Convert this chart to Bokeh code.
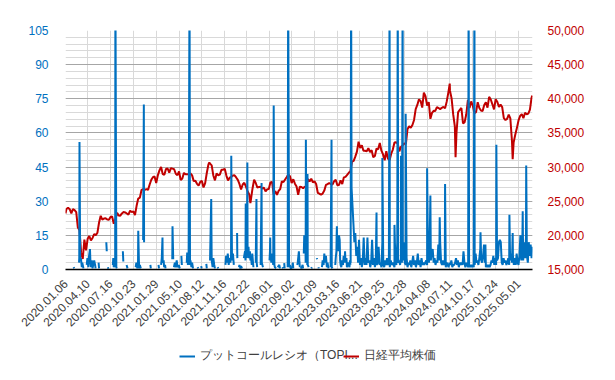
import numpy as np
import pandas as pd
from bokeh.plotting import figure
from bokeh.layouts import column
from bokeh.models import (Range1d, LinearAxis, FixedTicker, DatetimeTickFormatter,
                          NumeralTickFormatter, Legend, LegendItem)
from bokeh.embed import file_html
from bokeh.resources import INLINE

# ---------------- data ----------------
x_tick_dates = ["2020-01-06", "2020-04-10", "2020-07-16", "2020-10-23", "2021-01-29",
                "2021-05-10", "2021-08-12", "2021-11-16", "2022-02-22", "2022-06-01",
                "2022-09-02", "2022-12-09", "2023-03-16", "2023-06-21", "2023-09-25",
                "2023-12-28", "2024-04-08", "2024-07-11", "2024-10-17", "2025-01-24",
                "2025-05-01"]
x_start, x_end = "2020-01-06", "2025-07-01"
left_ticks = [0, 15, 30, 45, 60, 75, 90, 105]
right_ticks = [15000, 20000, 25000, 30000, 35000, 40000, 45000, 50000]
series_names = ["プットコールレシオ（TOPI...", "日経平均株価"]

# Nikkei 225, weekly (Friday) closes, one list per year, first Friday given
nk_2020_start = "2020-01-10"
nk_2020 = [23850, 24041, 23827, 23205, 23828, 23688, 23387, 21143,
           20750, 17431, 16552, 19389, 17820, 19499, 19897, 19262,
           19619, 20179, 20037, 20388, 21878, 22864, 22305, 22478, 22512,
           22306, 22291, 22696, 22751, 21710, 22329, 23289, 22920, 22882,
           23206, 23406, 23360, 23205, 23030, 23620, 23411, 23517, 22977,
           24325, 25385, 25527, 26645, 26751, 26653, 26763, 26657]
nk_2021_start = "2021-01-01"
nk_2021 = [27444, 28139, 28519, 28631, 27663, 28779, 29520, 30018, 28966,
           28864, 29718, 29792, 29176, 29854, 29768, 29683, 29021, 28813,
           29358, 28084, 28318, 29149, 28942, 28949, 28964, 29066,
           28783, 27940, 28003, 27548, 27284, 27820, 27977, 27013, 27641,
           29128, 30382, 30500, 30249, 28771, 28049, 29069, 28805, 28893,
           29612, 29610, 29746, 28752, 28030, 28437, 28546, 28782, 28792]
nk_2022_start = "2022-01-07"
nk_2022 = [28479, 28124, 27522, 26717, 27440, 27696, 27122, 26477,
           25985, 25163, 26828, 28150, 27666, 26986, 27093, 27105, 26848,
           27004, 26428, 26739, 26782, 27762, 27825, 25963, 26491,
           25936, 26517, 26788, 27915, 27802, 28176, 28547, 28930, 28641,
           27651, 28215, 27568, 27154, 25937, 27116, 27091, 26891, 27105,
           27200, 28264, 27900, 28283, 27778, 27901, 27527, 26235, 26095]
nk_2023_start = "2023-01-06"
nk_2023 = [25974, 26120, 26554, 27383, 27509, 27671, 27514, 27454,
           27927, 28144, 27334, 27385, 28041, 27518, 28493, 28564, 28856,
           29158, 29388, 30808, 30916, 31524, 32265, 33706, 32781, 33189,
           32388, 32391, 32304, 32759, 32193, 32474, 31451, 31625,
           32711, 32607, 33534, 32402, 31858, 30995, 32316, 31259, 30992,
           31950, 32568, 33585, 33626, 33432, 32308, 32971, 33170, 33464]
nk_2024_start = "2024-01-05"
nk_2024 = [33377, 35577, 35963, 35751, 36158, 36897, 38487, 39098,
           39911, 39689, 38708, 40888, 40369, 38992, 39524, 37068, 37935,
           38236, 38229, 38787, 38647, 38488, 38684, 38815, 38597, 39583,
           40912, 41191, 40064, 37668, 35910, 35025, 38063, 38364, 38648,
           36392, 36582, 37724, 39830, 38636, 39606, 38982, 37914,
           38054, 39501, 38643, 38284, 38208, 39091, 39471, 38702, 40281]
nk_2025_start = "2025-01-03"
nk_2025 = [39895, 39190, 38451, 39932, 39572, 38787, 39149, 38777, 37156,
           36887, 37053, 37677, 37120, 33781, 33586, 34730, 35706,
           36831, 37503, 37754, 37160, 37965, 37742, 37834, 38403, 40151]
nk_extra_dates = ["2020-01-06", "2021-09-14", "2022-03-09", "2024-07-11",
                  "2024-08-05", "2025-04-07", "2025-06-30"]
nk_extra_values = [23204, 30670, 24718, 42224, 31458, 31136, 40487]

# Put/Call ratio (TOPIX) - sparse period, None = gap
pcr_sparse_dates = [
    "2020-02-10", "2020-02-12", None,
    "2020-03-04", "2020-03-05", "2020-03-06", "2020-03-09", "2020-03-10", "2020-03-12", "2020-03-16", "2020-03-18", "2020-03-23", None,
    "2020-04-06", "2020-04-09", "2020-04-13", "2020-04-16", "2020-04-20", "2020-04-22", "2020-04-24", "2020-04-28", "2020-05-01", "2020-05-08", "2020-05-12", "2020-05-14", None,
    "2020-05-27", "2020-05-29", None,
    "2020-06-29", "2020-07-01", None,
    "2020-07-06", "2020-07-08", None,
    "2020-07-27", "2020-07-29", "2020-07-31", "2020-08-04", "2020-08-06", "2020-08-07", "2020-08-11", "2020-08-13", None,
    "2020-09-08", "2020-09-10", None,
    "2020-09-24", "2020-09-28", None,
    "2020-11-02", "2020-11-05", "2020-11-09", "2020-11-12", "2020-11-13", "2020-11-16", "2020-11-18", "2020-11-20", "2020-11-24", None,
    "2020-12-04", "2020-12-07", "2020-12-08", None,
    "2021-01-04", "2021-01-06", None,
    "2021-02-08", "2021-02-10", None,
    "2021-02-19", "2021-02-22", "2021-02-25", "2021-02-26", "2021-03-02", "2021-03-04", "2021-03-08", "2021-03-10", None,
    "2021-04-08", "2021-04-09", "2021-04-12", None,
    "2021-04-15", "2021-04-19", "2021-04-22", "2021-04-27", "2021-04-30", "2021-05-06", "2021-05-10", None,
    "2021-05-17", "2021-05-19", None,
    "2021-06-09", "2021-06-11", "2021-06-14", "2021-06-17", "2021-06-21", "2021-06-23", "2021-06-25", "2021-06-29", "2021-07-02", "2021-07-06", None,
    "2021-07-26", "2021-07-28", None,
    "2021-08-10", "2021-08-12", None,
    "2021-09-01", "2021-09-03", None,
    "2021-09-17", "2021-09-22", "2021-09-24", "2021-09-28", "2021-10-01", "2021-10-05", "2021-10-08", None,
    "2021-10-20", "2021-10-22", None,
    "2021-11-22", "2021-11-25", "2021-11-29", "2021-12-02", "2021-12-06", "2021-12-09", "2021-12-13", "2021-12-16", "2021-12-17", "2021-12-20", "2021-12-22", "2021-12-24", "2021-12-28", None,
    "2022-01-11", "2022-01-12", None,
    "2022-01-19", "2022-01-21", "2022-01-25", "2022-01-28", "2022-02-01", None,
    "2022-02-09", "2022-02-14", "2022-02-16", "2022-02-17", "2022-02-18", "2022-02-21", "2022-02-22", "2022-02-24", "2022-02-25", "2022-03-01", "2022-03-03", "2022-03-07", "2022-03-09", "2022-03-11", "2022-03-15", "2022-03-17", "2022-03-22", None,
    "2022-04-01", "2022-04-04", "2022-04-05", "2022-04-07", None,
    "2022-04-22", "2022-04-26", "2022-04-27", "2022-05-02", None,
    "2022-05-30", "2022-06-01", "2022-06-02", "2022-06-03", "2022-06-07", "2022-06-09", "2022-06-13", "2022-06-15", "2022-06-17", "2022-06-20", "2022-06-22", "2022-06-27", None,
    "2022-07-04", "2022-07-11", "2022-07-14", None,
    "2022-07-25", "2022-07-27", None,
    "2022-08-01", "2022-08-03", None,
    "2022-08-16", "2022-08-18", "2022-08-22", "2022-08-25", "2022-08-29", "2022-09-05", "2022-09-07", "2022-09-09", None,
    "2022-09-26", "2022-09-28", "2022-10-03", "2022-10-05", "2022-10-07", None,
    "2022-10-12", "2022-10-14", "2022-10-19", "2022-10-21", None,
    "2022-10-24", "2022-10-26", "2022-10-28", "2022-10-31", "2022-11-01", "2022-11-02", "2022-11-04", "2022-11-07", "2022-11-08", "2022-11-09", "2022-11-10", "2022-11-14", None,
    "2022-11-25", "2022-11-28", None,
    "2022-12-19", "2022-12-20", None,
    "2022-12-26", "2022-12-27", None,
    "2023-01-10", "2023-01-13", "2023-01-17", "2023-01-20", "2023-01-24", "2023-01-27", "2023-01-31", "2023-02-03", "2023-02-07", None,
    "2023-02-16", "2023-02-20", "2023-02-21", "2023-02-24", None,
    "2023-03-08", "2023-03-10", "2023-03-13", "2023-03-14", "2023-03-15", "2023-03-16", "2023-03-20", "2023-03-22", "2023-03-24", "2023-03-27", "2023-03-29", "2023-03-31", "2023-04-03", "2023-04-06", "2023-04-10", "2023-04-13", "2023-04-17", "2023-04-19", "2023-04-21", "2023-04-25", "2023-04-27", "2023-05-01", "2023-05-08", "2023-05-10", "2023-05-12",
]
pcr_sparse_values = [
    1, 0.5, None,
    3, 5, 56, 5, 4, 5, 1, 3, 0.5, None,
    2, 5, 1, 6, 9, 3, 1, 4, 0.5, 4, 2, 0.5, None,
    3, 0.5, None,
    12, 8, None,
    1, 0.3, None,
    2, 5, 1, 3, 1, 130, 1, 0.5, None,
    8, 3.5, None,
    2, 0.5, None,
    1, 3, 0.5, 2, 17, 3, 0.5, 2, 0.5, None,
    13, 72.5, 12, None,
    2, 0.5, None,
    2, 0.5, None,
    2, 5, 14, 3, 4, 1, 2, 0.5, None,
    4.5, 19, 4.5, None,
    1, 3, 1, 4, 1, 2, 0.5, None,
    6, 2, None,
    3, 7.5, 2, 4, 130, 2, 4, 1, 3, 0.5, None,
    1, 0.5, None,
    1.5, 0.5, None,
    2.5, 0.5, None,
    4, 31, 4, 1, 5, 2, 0.5, None,
    1, 0.5, None,
    2, 6, 3, 7, 2, 5, 3, 6, 50, 6, 4, 7, 2, None,
    16, 5, None,
    1, 2, 0.5, 1.5, 0.5, None,
    5, 8, 4, 29, 6, 9, 5, 47, 7, 10, 5, 8, 4, 6, 2, 7, 1, None,
    3, 31, 3, 1, None,
    2, 38, 3, 1, None,
    4, 8, 14, 6, 3, 7, 4, 2, 72, 2, 1, 0.5, None,
    1, 2, 0.5, None,
    1, 0.5, None,
    2.8, 0.5, None,
    1, 130, 1, 2, 0.5, 1, 3, 0.5, None,
    2, 3, 8, 4, 1, None,
    1, 0.5, 2, 0.5, None,
    7, 15, 9, 14, 3, 57, 8, 12, 2, 42, 2, 1, None,
    0.5, 1, None,
    5, 4.5, None,
    1, 0.5, None,
    1, 4, 2, 7, 3, 6, 1, 3, 0.5, None,
    1, 57, 1, 0.5, None,
    2, 5, 8, 15, 19, 9, 13, 8, 15, 13, 4, 2, 1, 4, 2, 6, 3, 8, 3, 5, 1, 3, 1, 4, 2,
]

# Put/Call ratio - dense period, one reading every 4 days from this date
pcr_dense_start = "2023-05-13"
pcr_dense = [
    3, 36, 28, 20, 12, 16, 6, 10,
    3, 13, 2, 5, 1, 4, 14, 2,
    5, 2, 14, 3, 4, 1, 3, 13,
    2, 5, 1, 4, 2, 3, 10, 2,
    3, 1, 12, 2, 1, 4, 2, 5,
    2, 3, 1, 4, 2, 3, 2, 1,
    3, 2, 12, 3, 4, 2, 5, 3,
    4, 12, 3, 2, 5, 1, 3, 2,
    4, 1, 3, 6, 2, 4, 1, 3,
    7, 2, 4, 1, 5, 2, 3, 2,
    3, 4, 2, 5, 3, 19, 4, 8,
    9, 3, 5, 2, 4, 3, 11, 4,
    12, 3, 2, 4, 2, 3, 1, 3,
    2, 1, 3, 2, 4, 1, 2, 2,
    3, 5, 2, 4, 1, 3, 2, 3,
    2, 8, 3, 1, 3, 2, 1, 2,
    1, 2, 1, 2, 1, 2, 7, 3,
    4, 2, 5, 9, 4, 3, 6, 11,
    3, 1, 2, 1, 2, 1, 2, 4,
    3, 6, 2, 5, 2, 4, 5, 12,
    13, 12, 3, 2, 5, 3, 4, 2,
    3, 5, 2, 4, 7, 3, 6, 2,
    5, 2, 7, 3, 2, 6, 15, 4,
    8, 4, 12, 5, 14, 6, 3, 12,
    6, 11, 5,
]
pcr_spike_dates = ["2023-05-15", "2023-09-01", "2023-09-26", "2023-10-27", "2023-11-17",
                   "2023-12-01", "2023-12-15", "2023-12-22", "2024-01-04", "2024-04-05",
                   "2024-04-19", "2024-05-29", "2024-06-21", "2024-09-30", "2024-10-25",
                   "2024-11-20", "2024-12-11", "2025-01-27", "2025-03-24", "2025-04-07",
                   "2025-05-20", "2025-06-04", "2025-06-30"]
pcr_spike_values = [130, 25, 49, 130, 19.6,
                    130, 50, 130, 68.4, 44.5,
                    32.5, 23, 37.6, 130, 130,
                    16.4, 11, 54.8, 24, 16,
                    25.6, 45.7, 10]

# ---------------- helpers ----------------
def ms(d):
    return pd.Timestamp(d).value / 1e6

assert len(pcr_sparse_dates) == len(pcr_sparse_values)
assert len(pcr_spike_dates) == len(pcr_spike_values)

nk_x, nk_y = [], []
for start, vals in [(nk_2020_start, nk_2020), (nk_2021_start, nk_2021), (nk_2022_start, nk_2022),
                    (nk_2023_start, nk_2023), (nk_2024_start, nk_2024), (nk_2025_start, nk_2025)]:
    ds = pd.date_range(start, periods=len(vals), freq="7D")
    nk_x += [ms(d) for d in ds]
    nk_y += list(vals)
nk_x += [ms(d) for d in nk_extra_dates]
nk_y += nk_extra_values
o = np.argsort(nk_x, kind="stable")
nk_x = list(np.array(nk_x)[o]); nk_y = list(np.array(nk_y, dtype=float)[o])

xa = [np.nan if d is None else ms(d) for d in pcr_sparse_dates]
ya = [np.nan if v is None else float(v) for v in pcr_sparse_values]

dd = pd.date_range(pcr_dense_start, periods=len(pcr_dense), freq="4D")
xb = [ms(d) for d in dd] + [ms(d) for d in pcr_spike_dates]
yb = [float(v) for v in pcr_dense] + [float(v) for v in pcr_spike_values]
o = np.argsort(xb, kind="stable")
xb = list(np.array(xb)[o]); yb = list(np.array(yb)[o])

# ---------------- figure ----------------
FONT = "Liberation Sans"
BLUE = "#0070C0"
RED = "#C00000"

p = figure(width=599, height=340, x_axis_type="datetime",
           x_range=Range1d(ms(x_start), ms(x_end)), y_range=Range1d(0, 105),
           output_backend="svg", toolbar_location=None,
           min_border_left=65, min_border_right=67, min_border_top=30, min_border_bottom=71)
p.title.visible = False
p.outline_line_color = None
p.background_fill_color = "white"
p.border_fill_color = "white"
p.extra_y_ranges = {"nk": Range1d(15000, 50000)}

# x axis
xt = FixedTicker(ticks=[ms(d) for d in x_tick_dates])
p.xaxis.ticker = xt
p.xaxis.formatter = DatetimeTickFormatter(days="%Y.%m.%d", months="%Y.%m.%d", years="%Y.%m.%d")
p.xaxis.major_label_orientation = np.pi / 4
p.xaxis.major_label_text_font = FONT
p.xaxis.major_label_text_font_size = "12px"
p.xaxis.major_label_text_color = "#404040"
p.xaxis.axis_line_color = "black"
p.xaxis.axis_line_width = 1.5
p.xaxis.major_tick_line_color = None
p.xaxis.minor_tick_line_color = None
p.xaxis.major_tick_out = 0
p.xaxis.major_tick_in = 0
p.xaxis.major_label_standoff = 12
p.xgrid.ticker = xt
p.xgrid.grid_line_color = "#D9D9D9"

# left axis
lt = FixedTicker(ticks=left_ticks, minor_ticks=list(range(0, 106, 3)))
p.yaxis.ticker = lt
p.yaxis.major_label_text_color = BLUE
p.yaxis.major_label_text_font = FONT
p.yaxis.major_label_text_font_size = "12px"
p.yaxis.axis_line_color = None
p.yaxis.major_tick_line_color = None
p.yaxis.minor_tick_line_color = None
p.yaxis.major_tick_out = 0
p.yaxis.major_tick_in = 0
p.yaxis.major_label_standoff = 13
p.ygrid.ticker = lt
p.ygrid.grid_line_color = "#A6A6A6"
p.ygrid.minor_grid_line_color = "#D9D9D9"

# right axis
ra = LinearAxis(y_range_name="nk", ticker=FixedTicker(ticks=right_ticks),
                formatter=NumeralTickFormatter(format="0,0"))
ra.major_label_text_color = RED
ra.major_label_text_font = FONT
ra.major_label_text_font_size = "12px"
ra.axis_line_color = None
ra.major_tick_line_color = None
ra.minor_tick_line_color = None
ra.major_tick_out = 0
ra.major_tick_in = 0
ra.major_label_standoff = 15
p.add_layout(ra, "right")

# series
r_nk = p.line(nk_x, nk_y, y_range_name="nk", line_color=RED, line_width=2)
r_a = p.line(xa, ya, line_color=BLUE, line_width=2)
r_b = p.line(xb, yb, line_color=BLUE, line_width=2)

# ---------------- legend strip ----------------
# (proxy renderers sit outside the strip's visible range; only their legend swatches show)
lg = figure(width=599, height=24, x_range=(0, 1), y_range=(0, 1),
            output_backend="svg", toolbar_location=None,
            x_axis_location=None, y_axis_location=None, min_border=0)
lg.title.visible = False
lg.outline_line_color = None
lg.grid.visible = False
lg_blue = lg.line([2, 3], [2, 3], line_color=BLUE, line_width=2)
lg_red = lg.line([2, 3], [2, 3], line_color=RED, line_width=2)

for name, rend, xpos in [(series_names[0], lg_blue, 114), (series_names[1], lg_red, 278)]:
    leg = Legend(items=[LegendItem(label=name, renderers=[rend])],
                 location=(xpos, 0), glyph_width=16, glyph_height=16, label_height=16,
                 label_standoff=5, border_line_color=None, padding=0, margin=0,
                 label_text_font=FONT, label_text_font_size="12px",
                 label_text_color="#404040", background_fill_alpha=0)
    lg.add_layout(leg)

layout = column(p, lg, spacing=0)
open("out.html", "w").write(file_html(layout, INLINE))
